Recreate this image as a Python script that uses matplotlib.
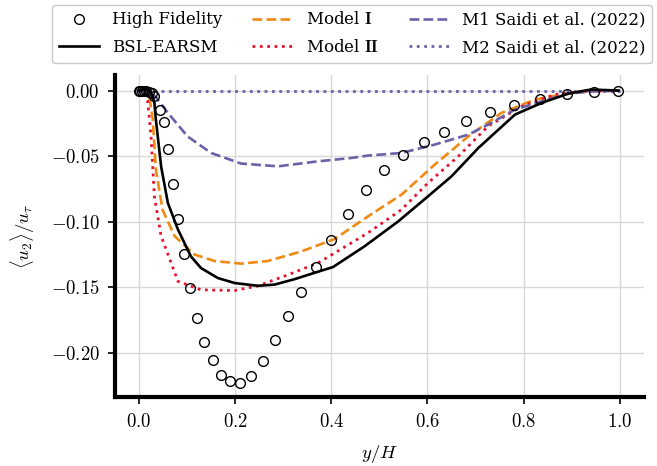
import matplotlib
matplotlib.use("Agg")
import matplotlib.pyplot as plt

plt.rcParams['font.family'] = 'serif'
plt.rcParams['font.serif'] = ['cmr10', 'DejaVu Serif']
plt.rcParams['mathtext.fontset'] = 'cm'
plt.rcParams['axes.formatter.use_mathtext'] = True
plt.rcParams['font.size'] = 13.5

# High fidelity reference points
hf_x = [0.0, 0.003, 0.006, 0.010, 0.015, 0.020, 0.026, 0.032, 0.044, 0.051, 0.061,
        0.070, 0.082, 0.093, 0.106, 0.120, 0.136, 0.153, 0.171, 0.190, 0.211,
        0.233, 0.257, 0.282, 0.310, 0.3375, 0.369, 0.400, 0.435, 0.4715, 0.509,
        0.549, 0.592, 0.635, 0.681, 0.730, 0.780, 0.834, 0.890, 0.946, 0.997]
hf_y = [0.0, 0.0, 0.0, -0.0003, -0.0006, -0.0012, -0.0022, -0.0043, -0.0145, -0.0242, -0.0445,
        -0.071, -0.0977, -0.1247, -0.1506, -0.1733, -0.1916, -0.2056, -0.2166, -0.2216, -0.2229,
        -0.2178, -0.2063, -0.1906, -0.1723, -0.1534, -0.1346, -0.1143, -0.0939, -0.0756, -0.0608,
        -0.0494, -0.0394, -0.0315, -0.0234, -0.0165, -0.0109, -0.0061, -0.0025, -0.0008, 0.0]

# BSL-EARSM
bsl_x = [0.0, 0.01, 0.02, 0.027, 0.032, 0.035, 0.039, 0.046, 0.060, 0.081, 0.108, 0.129, 0.164,
         0.199, 0.247, 0.282, 0.324, 0.365, 0.4035, 0.469, 0.539, 0.601, 0.65, 0.706, 0.782,
         0.8375, 0.893, 0.94, 0.997]
bsl_y = [0.0, 0.001, 0.0005, -0.003, -0.0094, -0.022, -0.035, -0.058, -0.0857, -0.106, -0.1265,
         -0.1354, -0.143, -0.1468, -0.1489, -0.148, -0.1438, -0.139, -0.1346, -0.1188, -0.0998,
         -0.0807, -0.0654, -0.0437, -0.0183, -0.0094, -0.0023, 0.0008, 0.0]

# Model I
m1_x = [0.0, 0.015, 0.022, 0.0285, 0.035, 0.049, 0.074, 0.115, 0.157, 0.2125, 0.268,
        0.3375, 0.407, 0.476, 0.546, 0.615, 0.685, 0.754, 0.8235, 0.879, 0.94, 1.0]
m1_y = [0.0, -0.001, -0.006, -0.022, -0.060, -0.091, -0.111, -0.125, -0.130, -0.132, -0.130,
        -0.1227, -0.1132, -0.096, -0.0794, -0.0565, -0.0349, -0.017, -0.0069, -0.003, -0.0005, 0.0]

# Model II
m2_x = [0.0, 0.012, 0.018, 0.025, 0.032, 0.046, 0.081, 0.129, 0.199, 0.247, 0.31,
        0.372, 0.407, 0.476, 0.546, 0.601, 0.664, 0.726, 0.796, 0.865, 0.93, 1.0]
m2_y = [0.0, -0.001, -0.008, -0.035, -0.081, -0.111, -0.1455, -0.152, -0.1525, -0.149, -0.1405,
        -0.1315, -0.1239, -0.1086, -0.0908, -0.0705, -0.0502, -0.0272, -0.012, -0.003, -0.0005, 0.0]

# Saidi et al. (2022)
s1_x = [0.0, 0.02, 0.035, 0.060, 0.101, 0.15, 0.2125, 0.289, 0.372, 0.442, 0.476,
        0.546, 0.615, 0.685, 0.726, 0.782, 0.8375, 0.893, 0.95, 1.0]
s1_y = [0.0, -0.001, -0.005, -0.017, -0.035, -0.0476, -0.0557, -0.0578, -0.054, -0.0514, -0.0496,
        -0.0476, -0.0412, -0.0336, -0.026, -0.0145, -0.0082, -0.0023, -0.0003, 0.0]
s2_x = [0.0, 1.0]
s2_y = [0.0, 0.0]

orange = '#f08a12'
red = '#e8112d'
purple = '#6a61a8'

fig = plt.figure(figsize=(6.57, 4.66), dpi=100)
ax = fig.add_axes([0.175, 0.147, 0.805, 0.693])

ax.plot(hf_x, hf_y, 'o', mfc='none', mec='black', ms=7, mew=1.0, label='High Fidelity', zorder=5)
ax.plot(bsl_x, bsl_y, '-', color='black', lw=1.9, label='BSL-EARSM', zorder=4)
ax.plot(m1_x, m1_y, '--', color=orange, lw=1.9, label=r'Model $\mathbf{I}$')
ax.plot(m2_x, m2_y, ':', color=red, lw=2.0, label=r'Model $\mathbf{II}$')
ax.plot(s1_x, s1_y, '--', color=purple, lw=1.9, label='M1 Saidi et al. (2022)')
ax.plot(s2_x, s2_y, ':', color=purple, lw=2.0, label='M2 Saidi et al. (2022)')

ax.grid(True, color='#d8d8d8', lw=1.0)
ax.set_axisbelow(True)
for side in ['top', 'right']:
    ax.spines[side].set_visible(False)
for side in ['left', 'bottom']:
    ax.spines[side].set_linewidth(3.0)
ax.tick_params(length=5, width=1.2, pad=6)

ax.set_xticks([0.0, 0.2, 0.4, 0.6, 0.8, 1.0])
ax.set_yticks([0.0, -0.05, -0.10, -0.15, -0.20])
ax.set_yticklabels([r'$0.00$', r'$-0.05$', r'$-0.10$', r'$-0.15$', r'$-0.20$'])
ax.set_xticklabels([r'$0.0$', r'$0.2$', r'$0.4$', r'$0.6$', r'$0.8$', r'$1.0$'])
ax.set_xlabel(r'$y/H$', labelpad=9)
ax.set_ylabel(r'$\langle u_2\rangle/u_\tau$', labelpad=10)

fig.legend(loc='upper center', bbox_to_anchor=(0.536, 0.997), ncol=3,
           prop={'family': 'DejaVu Serif', 'size': 12}, borderaxespad=0.2,
           handlelength=2.4, columnspacing=1.8, labelspacing=0.65, fancybox=True,
           edgecolor='#c8c8c8', framealpha=1.0)

fig.savefig('out.png', dpi=100)
